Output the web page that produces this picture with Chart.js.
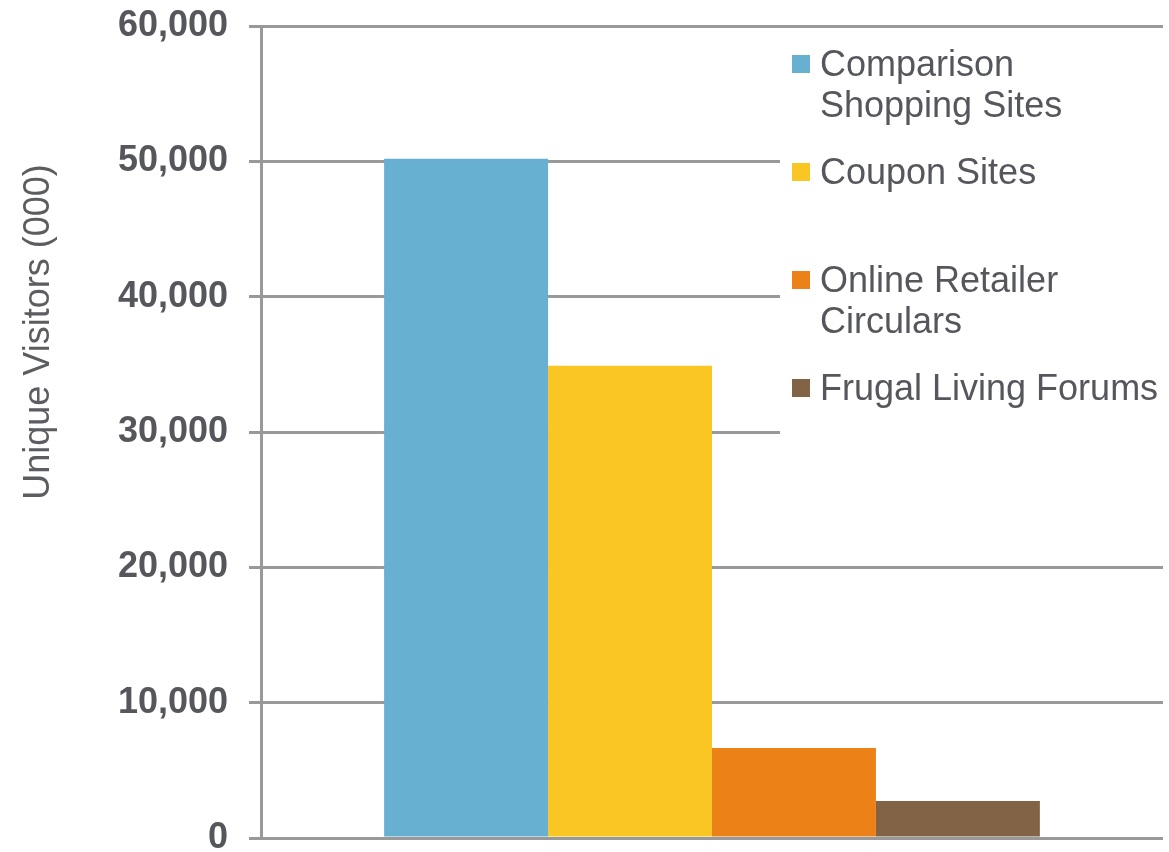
<!DOCTYPE html>
<html lang="en">
<head>
  <meta charset="UTF-8" />
  <title>Unique Visitors by Site Type</title>
  <script src="https://cdn.jsdelivr.net/npm/chart.js"></script>
  <style>
    html, body { margin: 0; padding: 0; background: #fff; overflow: hidden; }
    #wrap { position: relative; width: 1169px; height: 852px; }
  </style>
</head>
<body>
  <div id="wrap"><canvas id="visitorsChart"></canvas></div>

  <script>
    // data
    const categories = ['Unique Visitors'];
    const seriesNames = ['Comparison Shopping Sites', 'Coupon Sites', 'Online Retailer Circulars', 'Frugal Living Forums'];
    const legendLines = [['Comparison', 'Shopping Sites'], ['Coupon Sites'], ['Online Retailer', 'Circulars'], ['Frugal Living Forums']];
    const visitors = [50200, 34900, 6650, 2730];
    const seriesColors = ['#67b0d1', '#fac624', '#ec8117', '#826345'];
    const yMin = 0, yMax = 60000, yStep = 10000;
    const yTitle = 'Unique Visitors (000)';

    const textColor = '#55575c';
    const gridColor = '#999999';
    const fontFamily = '"Liberation Sans", Arial, Helvetica, sans-serif';

    // legend box sits on top of the grid lines, and the axis title is drawn by hand
    const sideLegend = {
      id: 'sideLegend',
      afterDatasetsDraw(chart) {
        const { ctx, chartArea } = chart;
        const x0 = chartArea.right - 371;
        const y0 = chartArea.top + 29;
        ctx.save();
        ctx.fillStyle = '#fff';
        ctx.fillRect(x0 - 12, chartArea.top + 12, chart.width - x0 + 12, 408);

        ctx.font = '36px ' + fontFamily;
        ctx.textBaseline = 'alphabetic';
        ctx.textAlign = 'left';
        chart.data.datasets.forEach((ds, i) => {
          const top = y0 + i * 108;
          ctx.fillStyle = ds.backgroundColor;
          ctx.fillRect(x0, top, 18, 18);
          ctx.fillStyle = textColor;
          legendLines[i].forEach((line, j) => {
            ctx.fillText(line, x0 + 28, top + 21 + j * 41);
          });
        });

        ctx.translate(39, 332);
        ctx.rotate(-Math.PI / 2);
        ctx.font = '36px ' + fontFamily;
        ctx.fillStyle = '#5b5d61';
        ctx.textAlign = 'center';
        ctx.textBaseline = 'middle';
        ctx.fillText(yTitle, 0, 0);
        ctx.restore();
      }
    };

    const ctx = document.getElementById('visitorsChart').getContext('2d');
    new Chart(ctx, {
      type: 'bar',
      data: {
        labels: categories,
        datasets: seriesNames.map((name, i) => ({
          label: name,
          data: [visitors[i]],
          backgroundColor: seriesColors[i],
          borderWidth: 0,
          categoryPercentage: 0.727,
          barPercentage: 1
        }))
      },
      options: {
        responsive: true,
        maintainAspectRatio: false,
        animation: false,
        layout: { padding: { top: 26, bottom: 14, right: 6, left: 0 } },
        plugins: {
          legend: { display: false },
          tooltip: { enabled: false }
        },
        scales: {
          x: { display: false },
          y: {
            min: yMin,
            max: yMax,
            ticks: {
              stepSize: yStep,
              padding: 21,
              color: textColor,
              font: { family: fontFamily, size: 36, weight: 'bold' },
              callback: v => v.toLocaleString('en-US')
            },
            grid: { color: gridColor, lineWidth: 3, tickLength: 12, drawTicks: true },
            border: { color: gridColor, width: 3 },
            afterFit(scale) {
              scale.width = 261;
              scale.paddingTop = 0;
              scale.paddingBottom = 0;
            }
          }
        }
      },
      plugins: [sideLegend]
    });
  </script>
</body>
</html>
